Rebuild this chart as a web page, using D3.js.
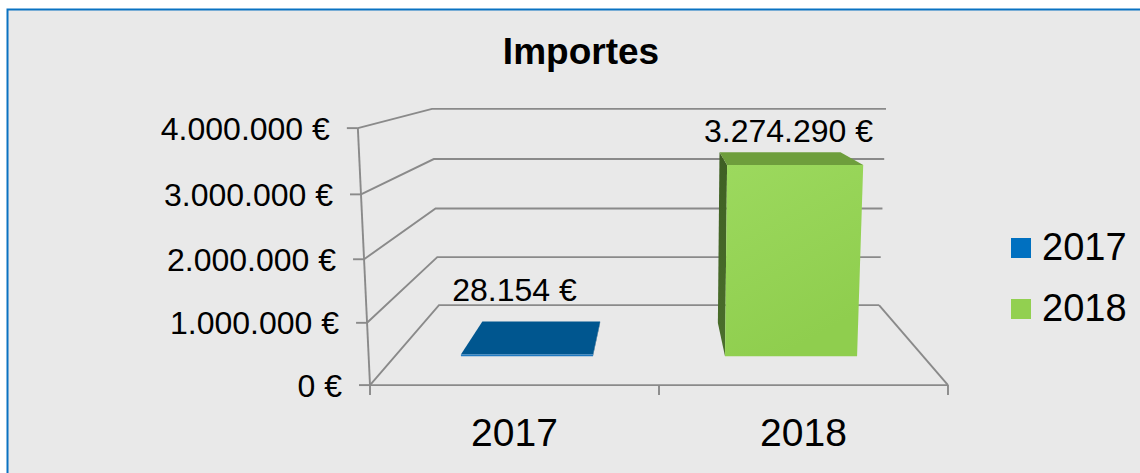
<!DOCTYPE html>
<html>
<head>
<meta charset="utf-8">
<script src="https://cdn.jsdelivr.net/npm/d3@7"></script>
<style>
  html, body { margin: 0; padding: 0; background: #ffffff; }
  svg { display: block; }
  text { font-family: "Liberation Sans", Arial, sans-serif; fill: #000; }
</style>
</head>
<body>
<svg id="chart" width="1140" height="473"></svg>
<script>
// ---- data ----
const categories = ["2017", "2018"];
const values = [28154, 3274290];
const yTicks = [0, 1000000, 2000000, 3000000, 4000000];
const yTickLabels = ["0 €", "1.000.000 €", "2.000.000 €", "3.000.000 €", "4.000.000 €"];
const valueLabels = ["28.154 €", "3.274.290 €"];
const legendLabels = ["2017", "2018"];
const title = "Importes";

// ---- styles ----
const frontTop = ["#2b82c8", "#9cd95e"];
const frontBottom = ["#1a74bc", "#8fce4e"];
const topColors = ["#00568f", "#6e9e3c"];
const sideTop = ["#003d66", "#3e5f23"];
const sideBottom = ["#004577", "#4b6f2c"];
const legendColors = ["#0070c0", "#92d050"];
const gridColor = "#8a8a8a";

const svg = d3.select("#chart");

// background + frame
svg.append("rect").attr("x", 7.5).attr("y", 9.5).attr("width", 1140).attr("height", 480)
  .attr("fill", "#e9e9e9").attr("stroke", "#0a72c2").attr("stroke-width", 2);

// ---- 3D world & camera ----
const W = 1.7516, D = 1.079, Hw = 0.776;
const cam = { x: W / 2, y: 1, z: -3.263 };
const th = Math.atan(0.179), s = Math.sin(th), c = Math.cos(th);
const f = 1118, pcx = 659, pcy = 250;
function project(X, Y, Z) {
  const dx = X - cam.x, dy = Y - cam.y, dz = Z - cam.z;
  const yc = dy * c + dz * s;
  const zc = -dy * s + dz * c;
  return [pcx + f * dx / zc, pcy - f * yc / zc];
}

const xBand = d3.scaleBand().domain(categories).range([0, W]).paddingInner(0.5).paddingOuter(0.25);
const yScale = d3.scaleLinear().domain([0, 4000000]).range([0, Hw]);
const zScale = d3.scaleLinear().domain([0, 1]).range([0, D]);
const barZ0 = zScale(0.301), barZ1 = zScale(0.725);

const defs = svg.append("defs");
categories.forEach((cat, i) => {
  const g1 = defs.append("linearGradient").attr("id", "front" + i)
    .attr("x1", 0).attr("y1", 0).attr("x2", 0.4).attr("y2", 1);
  g1.append("stop").attr("offset", 0).attr("stop-color", frontTop[i]);
  g1.append("stop").attr("offset", 1).attr("stop-color", frontBottom[i]);
  const g2 = defs.append("linearGradient").attr("id", "side" + i)
    .attr("x1", 0).attr("y1", 0).attr("x2", 0).attr("y2", 1);
  g2.append("stop").attr("offset", 0).attr("stop-color", sideTop[i]);
  g2.append("stop").attr("offset", 1).attr("stop-color", sideBottom[i]);
});

const line = d3.line();
const grid = svg.append("g").attr("fill", "none").attr("stroke", gridColor).attr("stroke-width", 1.9);

// walls gridlines (side wall + back wall)
yTicks.forEach(v => {
  const y = yScale(v);
  grid.append("path").attr("d", line([project(0, y, 0), project(0, y, D), project(W, y, D)]));
});
// floor right edge and front edge (category axis)
grid.append("path").attr("d", line([project(W, 0, D), project(W, 0, 0)]));
grid.append("path").attr("d", line([project(0, 0, 0), project(W, 0, 0)]));
// value axis line
grid.append("path").attr("d", line([project(0, 0, 0), project(0, Hw, 0)]));
// value ticks
yTicks.forEach(v => {
  const p = project(0, yScale(v), 0);
  grid.append("path").attr("d", line([[p[0] - 11, p[1]], p]));
});
// category ticks at boundaries
d3.range(categories.length + 1).forEach(k => {
  const p = project(k * W / categories.length, 0, 0);
  grid.append("path").attr("d", line([p, [p[0], p[1] + 10]]));
});

// ---- bars ----
const bars = svg.append("g");
categories.forEach((cat, i) => {
  const x0 = xBand(cat), x1 = x0 + xBand.bandwidth();
  const h = yScale(values[i]);
  const poly = pts => bars.append("path").attr("d", line(pts) + "Z");
  if (cam.x < x0) {
    poly([project(x0, 0, barZ0), project(x0, 0, barZ1), project(x0, h, barZ1), project(x0, h, barZ0)])
      .attr("fill", `url(#side${i})`);
  }
  if (cam.x > x1) {
    poly([project(x1, 0, barZ0), project(x1, 0, barZ1), project(x1, h, barZ1), project(x1, h, barZ0)])
      .attr("fill", `url(#side${i})`);
  }
  poly([project(x0, h, barZ0), project(x1, h, barZ0), project(x1, h, barZ1), project(x0, h, barZ1)])
    .attr("fill", topColors[i]);
  poly([project(x0, 0, barZ0), project(x1, 0, barZ0), project(x1, h, barZ0), project(x0, h, barZ0)])
    .attr("fill", `url(#front${i})`);
});

// ---- value labels ----
const rightLimit = project(W, 0, D)[0] - 6;
categories.forEach((cat, i) => {
  const cxw = xBand(cat) + xBand.bandwidth() / 2;
  const h = yScale(values[i]);
  const t = svg.append("text").attr("font-size", 32).attr("text-anchor", "middle")
    .text(valueLabels[i]);
  const w = t.node().getComputedTextLength();
  let x = project(cxw, h, 0)[0];
  if (x + w / 2 > rightLimit) x = rightLimit - w / 2;
  t.attr("x", x).attr("y", project(cxw, h, D)[1] - 3);
});

// ---- value axis labels ----
yTicks.forEach((v, i) => {
  const p = project(0, yScale(v), 0);
  svg.append("text").attr("x", p[0] - 28).attr("y", p[1]).attr("dy", "0.36em")
    .attr("text-anchor", "end").attr("font-size", 32).text(yTickLabels[i]);
});

// ---- category labels ----
categories.forEach(cat => {
  const p = project(xBand(cat) + xBand.bandwidth() / 2, 0, 0);
  svg.append("text").attr("x", p[0]).attr("y", p[1] + 61).attr("text-anchor", "middle")
    .attr("font-size", 39).text(cat);
});

// ---- title ----
svg.append("text").attr("x", 581).attr("y", 64).attr("text-anchor", "middle")
  .attr("font-size", 37).attr("font-weight", "bold").text(title);

// ---- legend ----
const legend = svg.append("g").attr("transform", "translate(1011,238)");
legendLabels.forEach((lab, i) => {
  const g = legend.append("g").attr("transform", `translate(0,${i * 61})`);
  g.append("rect").attr("width", 20).attr("height", 20).attr("fill", legendColors[i]);
  g.append("text").attr("x", 31).attr("y", 22).attr("font-size", 38).text(lab);
});
</script>
</body>
</html>
